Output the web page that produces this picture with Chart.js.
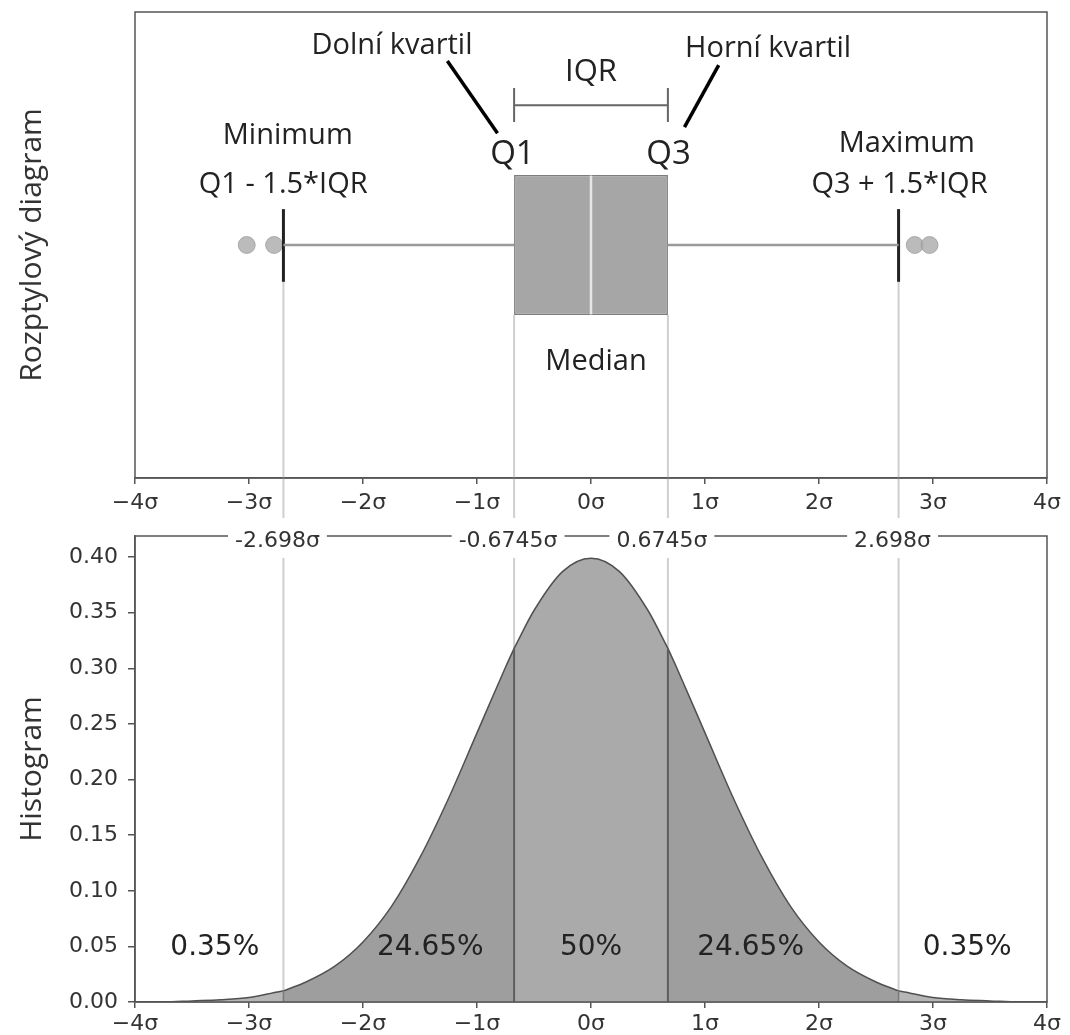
<!DOCTYPE html>
<html>
<head>
<meta charset="utf-8">
<script src="https://cdn.jsdelivr.net/npm/chart.js@4"></script>
<style>
html, body { margin: 0; padding: 0; background: #fff; }
#wrap { position: relative; width: 1070px; height: 1035px; }
canvas { position: absolute; left: 0; }
#boxChart { top: 0; }
#histChart { top: 520px; }
</style>
</head>
<body>
<div id="wrap">
<canvas id="boxChart" width="1070" height="520"></canvas>
<canvas id="histChart" width="1070" height="515"></canvas>
</div>
<script>
// x axis is in units of sigma
var xTicks = [-4, -3, -2, -1, 0, 1, 2, 3, 4];
var xTickLabels = ['−4σ', '−3σ', '−2σ', '−1σ', '0σ', '1σ', '2σ', '3σ', '4σ'];

// box plot: Q1, median, Q3 and whisker ends
var quartiles = [-0.6745, 0, 0.6745];
var whiskerEnds = [-2.698, 2.698];
var outliers = [-3.02, -2.78, 2.84, 2.97];

// histogram curve (density)
var curveX = [-4, -3.75, -3.5, -3.25, -3, -2.75, -2.698, -2.5, -2.25, -2, -1.75, -1.5, -1.25, -1, -0.75, -0.6745,
	-0.5, -0.25, 0, 0.25, 0.5, 0.6745, 0.75, 1, 1.25, 1.5, 1.75, 2, 2.25, 2.5, 2.698, 2.75, 3, 3.25, 3.5, 3.75, 4];
var curveY = [0.000, 0.000, 0.001, 0.002, 0.004, 0.009, 0.010, 0.018, 0.032, 0.054, 0.086, 0.130, 0.183, 0.242, 0.301, 0.318,
	0.352, 0.387, 0.399, 0.387, 0.352, 0.318, 0.301, 0.242, 0.183, 0.130, 0.086, 0.054, 0.032, 0.018, 0.010, 0.009, 0.004, 0.002, 0.001, 0.000, 0.000];
var regionEdges = [-4, -2.698, -0.6745, 0.6745, 2.698, 4];
var regionLabels = ['0.35%', '24.65%', '50%', '24.65%', '0.35%'];
var regionLabelX = [-3.3, -1.41, 0, 1.4, 3.3];
var edgeLabels = ['-2.698σ', '-0.6745σ', '0.6745σ', '2.698σ'];
var yTicks = [0, 0.05, 0.10, 0.15, 0.20, 0.25, 0.30, 0.35, 0.40];
var yTickLabels = ['0.00', '0.05', '0.10', '0.15', '0.20', '0.25', '0.30', '0.35', '0.40'];

// styles
var regionColors = ['#b6b6b6', '#9e9e9e', '#aaaaaa', '#9e9e9e', '#b6b6b6'];
var textFont = '"Open Sans", "Noto Sans", sans-serif';
var numFont = '"DejaVu Sans", sans-serif';
var vlineColor = '#cfcfcf';

// annotations of the box plot (in data coords)
var boxNotes = [
	{ text: 'Dolní kvartil', x: -1.746, y: 1.437, size: 29 },
	{ text: 'IQR', x: 0, y: 1.379, size: 31 },
	{ text: 'Horní kvartil', x: 1.553, y: 1.429, size: 29 },
	{ text: 'Q1', x: -0.689, y: 1.202, size: 33 },
	{ text: 'Q3', x: 0.68, y: 1.202, size: 33 },
	{ text: 'Minimum', x: -2.66, y: 1.242, size: 29 },
	{ text: 'Q1 - 1.5*IQR', x: -2.70, y: 1.137, size: 29 },
	{ text: 'Maximum', x: 2.77, y: 1.225, size: 29 },
	{ text: 'Q3 + 1.5*IQR', x: 2.706, y: 1.137, size: 29 },
	{ text: 'Median', x: 0.044, y: 0.758, size: 29 }
];
var leaders = [
	[-1.26, 1.395, -0.82, 1.240],
	[1.12, 1.386, 0.82, 1.253]
];

function tickCallback(labels) {
	return function (value, index) { return labels[index]; };
}

function drawFrame(ctx, area) {
	ctx.save();
	ctx.strokeStyle = '#555';
	ctx.lineWidth = 1.5;
	ctx.strokeRect(area.left, area.top, area.right - area.left, area.bottom - area.top);
	ctx.restore();
}

// ******************************** box plot ********************************

var boxPlugin = {
	id: 'boxPlugin',
	beforeDatasetsDraw: function (chart) {
		var ctx = chart.ctx, xs = chart.scales.x, ys = chart.scales.y;
		ctx.save();
		ctx.strokeStyle = vlineColor;
		ctx.lineWidth = 2;
		[whiskerEnds[0], quartiles[0], quartiles[2], whiskerEnds[1]].forEach(function (v, i) {
			var px = xs.getPixelForValue(v);
			var startY = (i === 0 || i === 3) ? ys.getPixelForValue(0.921) : ys.getPixelForValue(0.85);
			ctx.beginPath();
			ctx.moveTo(px, startY);
			ctx.lineTo(px, chart.height - 2);
			ctx.stroke();
		});
		ctx.restore();
	},
	afterDraw: function (chart) {
		var ctx = chart.ctx, xs = chart.scales.x, ys = chart.scales.y;
		drawFrame(ctx, chart.chartArea);

		ctx.save();
		// IQR bracket
		var x1 = xs.getPixelForValue(quartiles[0]), x2 = xs.getPixelForValue(quartiles[2]);
		var yb = ys.getPixelForValue(1.30);
		ctx.strokeStyle = '#666';
		ctx.lineWidth = 2;
		ctx.beginPath();
		ctx.moveTo(x1, yb); ctx.lineTo(x2, yb);
		ctx.moveTo(x1, ys.getPixelForValue(1.337)); ctx.lineTo(x1, ys.getPixelForValue(1.264));
		ctx.moveTo(x2, ys.getPixelForValue(1.337)); ctx.lineTo(x2, ys.getPixelForValue(1.264));
		ctx.stroke();

		// leader lines
		ctx.strokeStyle = '#000';
		ctx.lineWidth = 3.5;
		leaders.forEach(function (l) {
			ctx.beginPath();
			ctx.moveTo(xs.getPixelForValue(l[0]), ys.getPixelForValue(l[1]));
			ctx.lineTo(xs.getPixelForValue(l[2]), ys.getPixelForValue(l[3]));
			ctx.stroke();
		});

		ctx.fillStyle = '#222';
		ctx.textAlign = 'center';
		ctx.textBaseline = 'middle';
		boxNotes.forEach(function (n) {
			ctx.font = n.size + 'px ' + textFont;
			// +4px: 'middle' sits a little above the cap-height centre
			ctx.fillText(n.text, xs.getPixelForValue(n.x), ys.getPixelForValue(n.y) + 4);
		});
		ctx.restore();
	}
};

var whiskerLine = function (a, b) {
	return { type: 'line', data: [{ x: a, y: 1 }, { x: b, y: 1 }], borderColor: '#9a9a9a', borderWidth: 2.5, pointRadius: 0 };
};
var capLine = function (v) {
	return { type: 'line', data: [{ x: v, y: 0.921 }, { x: v, y: 1.077 }], borderColor: '#222', borderWidth: 3, pointRadius: 0 };
};

var boxChart = new Chart(document.getElementById('boxChart'), {
	type: 'bar',
	data: {
		datasets: [
			{
				type: 'bar',
				data: [{ y: 1, x: [quartiles[0], quartiles[2]] }],
				backgroundColor: '#a6a6a6',
				borderColor: '#7d7d7d',
				borderWidth: 1.5,
				borderSkipped: false,
				categoryPercentage: 1,
				barPercentage: 0.3,
				order: 5
			},
			{ type: 'line', data: [{ x: quartiles[1], y: 0.851 }, { x: quartiles[1], y: 1.149 }], borderColor: '#e6e6e6', borderWidth: 2.5, pointRadius: 0, order: 1 },
			whiskerLine(whiskerEnds[0], quartiles[0]),
			whiskerLine(quartiles[2], whiskerEnds[1]),
			capLine(whiskerEnds[0]),
			capLine(whiskerEnds[1]),
			{
				type: 'scatter',
				data: outliers.map(function (v) { return { x: v, y: 1 }; }),
				backgroundColor: 'rgba(175,175,175,0.85)',
				borderColor: 'rgba(140,140,140,0.6)',
				borderWidth: 1,
				pointRadius: 8.5,
				order: 0
			}
		]
	},
	options: {
		indexAxis: 'y',
		responsive: false,
		animation: false,
		layout: { padding: { top: 12, right: 23, left: 0, bottom: 0 } },
		plugins: { legend: { display: false }, tooltip: { enabled: false } },
		scales: {
			x: {
				type: 'linear', min: -4, max: 4,
				afterFit: function (s) { s.height = 42; },
				afterBuildTicks: function (s) { s.ticks = xTicks.map(function (v) { return { value: v }; }); },
				ticks: { callback: tickCallback(xTickLabels), font: { family: numFont, size: 22 }, color: '#333', padding: 6, maxRotation: 0, autoSkip: false },
				grid: { drawOnChartArea: false, drawTicks: true, tickLength: 6, color: '#555', lineWidth: 1.5 },
				border: { display: true, color: '#555', width: 1.5 }
			},
			y: {
				type: 'linear', min: 0.5, max: 1.5, offset: false,
				afterFit: function (s) { s.width = 135; },
				// only the box row, so the bar keeps its height relative to the axis
				afterBuildTicks: function (s) { s.ticks = [{ value: 1 }]; },
				ticks: { display: false },
				grid: { display: false },
				border: { display: false },
				title: { display: true, text: 'Rozptylový diagram', font: { family: textFont, size: 30 }, color: '#333', padding: { top: 14, bottom: 0 } }
			}
		}
	},
	plugins: [boxPlugin]
});

// ******************************** histogram ********************************

var histDatasets = [];

for (var i = 0; i < regionLabels.length; i++) {
	var pts = [];
	for (var j = 0; j < curveX.length; j++) {
		if (curveX[j] >= regionEdges[i] && curveX[j] <= regionEdges[i + 1]) {
			pts.push({ x: curveX[j], y: curveY[j] });
		}
	}
	histDatasets.push({
		data: pts,
		fill: 'origin',
		backgroundColor: regionColors[i],
		borderColor: '#505050',
		borderWidth: 1.5,
		pointRadius: 0,
		cubicInterpolationMode: 'monotone',
		order: 2
	});
}

// dark edges between the regions, from the baseline up to the curve
for (var k = 1; k < regionEdges.length - 1; k++) {
	var edgeX = regionEdges[k];
	var edgeTop = curveY[curveX.indexOf(edgeX)];
	var inner = Math.abs(edgeX) < 1;
	histDatasets.push({
		indexAxis: 'y',
		data: [{ x: edgeX, y: 0 }, { x: edgeX, y: edgeTop }],
		borderColor: inner ? '#5e5e5e' : '#7a7a7a',
		borderWidth: inner ? 2 : 1.5,
		pointRadius: 0,
		order: -1
	});
}

var histPlugin = {
	id: 'histPlugin',
	beforeDatasetsDraw: function (chart) {
		var ctx = chart.ctx, xs = chart.scales.x;
		ctx.save();
		ctx.strokeStyle = vlineColor;
		ctx.lineWidth = 2;
		for (var k = 1; k < regionEdges.length - 1; k++) {
			var px = xs.getPixelForValue(regionEdges[k]);
			ctx.beginPath();
			ctx.moveTo(px, 38);
			ctx.lineTo(px, chart.chartArea.bottom);
			ctx.stroke();
		}
		ctx.restore();
	},
	afterDraw: function (chart) {
		var ctx = chart.ctx, xs = chart.scales.x, ys = chart.scales.y;
		drawFrame(ctx, chart.chartArea);

		ctx.save();
		ctx.textAlign = 'center';
		ctx.textBaseline = 'middle';

		// labels of the quartile lines, sitting on the top border
		ctx.font = '22px ' + numFont;
		for (var k = 1; k < regionEdges.length - 1; k++) {
			var label = edgeLabels[k - 1];
			var cx = xs.getPixelForValue(regionEdges[k]) - 6;
			var w = ctx.measureText(label).width;
			ctx.fillStyle = '#fff';
			ctx.fillRect(cx - w / 2 - 7, 0, w + 14, 37);
			ctx.fillStyle = '#333';
			ctx.fillText(label, cx, 21);
		}

		// share of each region
		ctx.font = '28px ' + numFont;
		ctx.fillStyle = '#222';
		for (var i = 0; i < regionLabels.length; i++) {
			ctx.fillText(regionLabels[i], xs.getPixelForValue(regionLabelX[i]), ys.getPixelForValue(0.049));
		}
		ctx.restore();
	}
};

var histChart = new Chart(document.getElementById('histChart'), {
	type: 'line',
	data: { datasets: histDatasets },
	options: {
		responsive: false,
		animation: false,
		layout: { padding: { top: 16, right: 23, left: 0, bottom: 0 } },
		plugins: { legend: { display: false }, tooltip: { enabled: false } },
		scales: {
			x: {
				type: 'linear', min: -4, max: 4,
				afterFit: function (s) { s.height = 33; },
				afterBuildTicks: function (s) { s.ticks = xTicks.map(function (v) { return { value: v }; }); },
				ticks: { callback: tickCallback(xTickLabels), font: { family: numFont, size: 22 }, color: '#333', padding: 3, maxRotation: 0, autoSkip: false },
				grid: { drawOnChartArea: false, drawTicks: true, tickLength: 6, color: '#555', lineWidth: 1.5 },
				border: { display: true, color: '#555', width: 1.5 }
			},
			y: {
				type: 'linear', min: 0, max: 0.419,
				// fixed width, and no extra room above/below for the tick labels
				afterFit: function (s) { s.width = 135; s.paddingTop = 0; s.paddingBottom = 0; },
				afterBuildTicks: function (s) { s.ticks = yTicks.map(function (v) { return { value: v }; }); },
				ticks: { callback: tickCallback(yTickLabels), font: { family: numFont, size: 22 }, color: '#333', padding: 10 },
				grid: { drawOnChartArea: false, drawTicks: true, tickLength: 7, color: '#555', lineWidth: 1.5 },
				border: { display: true, color: '#555', width: 1.5 },
				title: { display: true, text: 'Histogram', font: { family: textFont, size: 30 }, color: '#333', padding: { top: 14, bottom: 0 } }
			}
		}
	},
	plugins: [histPlugin]
});
</script>
</body>
</html>
